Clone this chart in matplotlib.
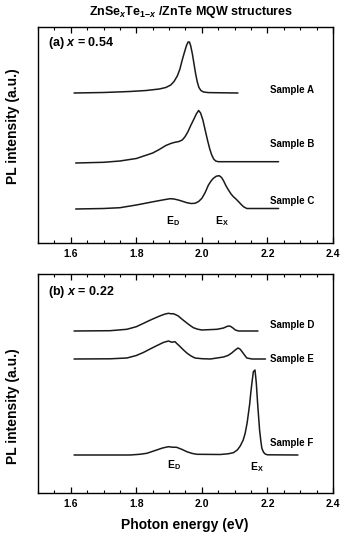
import matplotlib
matplotlib.use("Agg")
import matplotlib.pyplot as plt
import numpy as np
from matplotlib.ticker import MultipleLocator

plt.rcParams['font.family'] = ['Liberation Sans', 'DejaVu Sans']
plt.rcParams['font.weight'] = 'bold'
plt.rcParams['mathtext.fontset'] = 'custom'
plt.rcParams['mathtext.rm'] = 'Liberation Sans:bold'
plt.rcParams['mathtext.it'] = 'Liberation Sans:bold:italic'
plt.rcParams['mathtext.bf'] = 'Liberation Sans:bold'

# ---------------- data (energy in eV, intensity in arbitrary units) ----------------
# Panel (a) x = 0.54
eA = [1.61, 1.70, 1.78, 1.83, 1.87, 1.89, 1.905, 1.915, 1.925, 1.933, 1.94, 1.947, 1.953, 1.958,
      1.962, 1.966, 1.971, 1.976, 1.981, 1.986, 1.991, 1.997, 2.005, 2.02, 2.11]
iA = [0.0, 0.5, 1.5, 2.5, 4.0, 5.5, 8.0, 11.5, 17.0, 24.0, 33.0, 41.0, 47.5, 51.0,
      51.0, 47.0, 39.0, 29.0, 19.0, 11.0, 5.5, 2.5, 1.0, 0.4, 0.0]
offA = 150

eB = [1.615, 1.70, 1.75, 1.80, 1.85, 1.87, 1.89, 1.905, 1.915, 1.93, 1.94, 1.948, 1.957, 1.966,
      1.975, 1.983, 1.99, 1.996, 2.003, 2.01, 2.017, 2.024, 2.03, 2.036, 2.042, 2.05, 2.234]
iB = [0.0, 0.7, 2.0, 4.5, 10.0, 13.5, 17.5, 19.5, 20.5, 21.5, 23.0, 26.0, 31.0, 37.5,
      43.5, 49.0, 52.5, 50.0, 43.0, 33.0, 23.0, 14.0, 8.0, 4.0, 2.0, 1.3, 1.3]
offB = 80

eC = [1.615, 1.70, 1.75, 1.80, 1.852, 1.88, 1.903, 1.915, 1.928, 1.94, 1.954, 1.967, 1.979, 1.99,
      2.00, 2.01, 2.02, 2.028, 2.035, 2.044, 2.053, 2.06, 2.066, 2.073,
      2.081, 2.089, 2.096, 2.104, 2.112, 2.12, 2.127, 2.137, 2.234]
iC = [0.0, 0.5, 1.3, 4.0, 7.3, 9.0, 10.3, 10.0, 9.0, 7.8, 6.3, 5.5, 5.7, 7.5,
      10.7, 16.5, 24.0, 28.0, 30.7, 32.8, 33.3, 31.5, 28.3, 23.5,
      19.0, 15.0, 12.3, 10.0, 7.3, 4.5, 2.3, 0.5, 0.5]
offC = 34

# Panel (b) x = 0.22
eD = [1.61, 1.72, 1.771, 1.80, 1.822, 1.842, 1.862, 1.876, 1.888, 1.898, 1.906, 1.913, 1.92, 1.928,
      1.938, 1.949, 1.962, 1.974, 1.987, 2.00, 2.046, 2.066,
      2.074, 2.081, 2.087, 2.094, 2.102, 2.112, 2.171]
iD = [0.0, 0.3, 1.7, 4.3, 7.7, 10.8, 13.7, 15.6, 17.0, 17.7, 17.2, 17.3, 16.3, 15.0,
      12.2, 9.3, 6.0, 3.3, 1.8, 1.0, 1.7, 3.0,
      4.2, 5.0, 4.7, 3.2, 1.0, 0.0, 0.0]
offD = 162

eE = [1.61, 1.72, 1.771, 1.80, 1.822, 1.842, 1.862, 1.883, 1.898, 1.908, 1.918, 1.925, 1.933, 1.943,
      1.954, 1.966, 1.979, 2.0, 2.026, 2.066, 2.08,
      2.091, 2.101, 2.110, 2.116, 2.122, 2.13, 2.137, 2.153, 2.194]
iE = [0.0, 0.2, 1.0, 3.5, 6.6, 10.0, 13.3, 16.6, 18.0, 16.8, 17.3, 15.0, 12.6, 9.3,
      6.0, 3.2, 1.0, 0.3, 0.0, 2.0, 3.6,
      6.0, 8.8, 11.0, 10.0, 7.6, 4.0, 1.0, 0.0, 0.0]
offE = 134

eF = [1.61, 1.781, 1.81, 1.832, 1.862, 1.88, 1.898, 1.91, 1.923, 1.94, 1.954, 1.97, 1.985, 2.056,
      2.08, 2.096, 2.108, 2.117, 2.126, 2.132, 2.138, 2.142, 2.146,
      2.149, 2.153, 2.157, 2.162, 2.166, 2.170, 2.176, 2.18, 2.183, 2.188, 2.193, 2.2, 2.293]
iF = [0.0, 0.0, 0.7, 1.7, 5.0, 7.0, 8.3, 7.8, 7.7, 5.5, 3.3, 1.6, 0.7, 0.5,
      1.2, 2.3, 5.0, 9.0, 15.0, 21.7, 32.0, 41.7, 51.5,
      61.7, 73.0, 83.3, 85.0, 72.0, 51.7, 25.0, 13.5, 6.7, 2.8, 1.0, 0.2, 0.0]
offF = 38

panel_a = [("Sample A", eA, iA, offA, 153), ("Sample B", eB, iB, offB, 99), ("Sample C", eC, iC, offC, 42)]
panel_b = [("Sample D", eD, iD, offD, 168), ("Sample E", eE, iE, offE, 134), ("Sample F", eF, iF, offF, 50)]

xticks = [1.6, 1.8, 2.0, 2.2, 2.4]
xtick_labels = ["1.6", "1.8", "2.0", "2.2", "2.4"]

# ---------------- figure ----------------
W, H = 341, 535
fig = plt.figure(figsize=(W / 100, H / 100), dpi=100)
ax1 = fig.add_axes([38 / W, 1 - 243 / H, 295 / W, 216 / H])
ax2 = fig.add_axes([38 / W, 1 - 493 / H, 295 / W, 219 / H])

def style(ax, ymax):
    ax.set_xlim(1.5, 2.4)
    ax.set_ylim(0, ymax)
    ax.set_xticks(xticks)
    ax.set_xticklabels(xtick_labels, fontsize=7.5, fontweight='bold')
    ax.xaxis.set_minor_locator(MultipleLocator(0.05))
    ax.set_yticks([])
    ax.tick_params(axis='x', which='major', direction='in', length=4, width=0.9, top=True, pad=4)
    ax.tick_params(axis='x', which='minor', direction='in', length=2.2, width=0.8, top=True)
    for s in ax.spines.values():
        s.set_linewidth(1.0)

style(ax1, 216)
style(ax2, 219)

for ax, panel in ((ax1, panel_a), (ax2, panel_b)):
    for name, e, inten, off, ylab in panel:
        ax.plot(e, np.array(inten) + off, color='#1a1a1a', lw=1.1,
                solid_joinstyle='round', solid_capstyle='round')
        ax.text(2.208, ylab, name, fontsize=7, fontweight='bold', va='center', ha='left')

ax1.text(0.035, 0.926, r"(a) $x$ = 0.54", transform=ax1.transAxes, fontsize=9,
         fontweight='bold', va='center', ha='left')
ax2.text(0.035, 0.919, r"(b) $x$ = 0.22", transform=ax2.transAxes, fontsize=9,
         fontweight='bold', va='center', ha='left')

ax1.text(1.913, 22, r"E$_\mathrm{D}$", fontsize=7.5, ha='center', va='center')
ax1.text(2.062, 22, r"E$_\mathrm{X}$", fontsize=7.5, ha='center', va='center')
ax2.text(1.915, 28, r"E$_\mathrm{D}$", fontsize=7.5, ha='center', va='center')
ax2.text(2.168, 26, r"E$_\mathrm{X}$", fontsize=7.5, ha='center', va='center')

fig.text(191 / W, 1 - 12 / H, r"ZnSe$_{x}$Te$_{1\mathrm{-}x}$ /ZnTe MQW structures",
         fontsize=9, fontweight='bold', ha='center', va='center')
fig.text(13 / W, 1 - 126 / H, "PL intensity (a.u.)", rotation=90, fontsize=10,
         fontweight='bold', ha='center', va='center')
fig.text(13 / W, 1 - 406 / H, "PL intensity (a.u.)", rotation=90, fontsize=10,
         fontweight='bold', ha='center', va='center')
fig.text(185 / W, 1 - 525 / H, "Photon energy (eV)", fontsize=10,
         fontweight='bold', ha='center', va='center')

fig.savefig("out.png", dpi=100)
